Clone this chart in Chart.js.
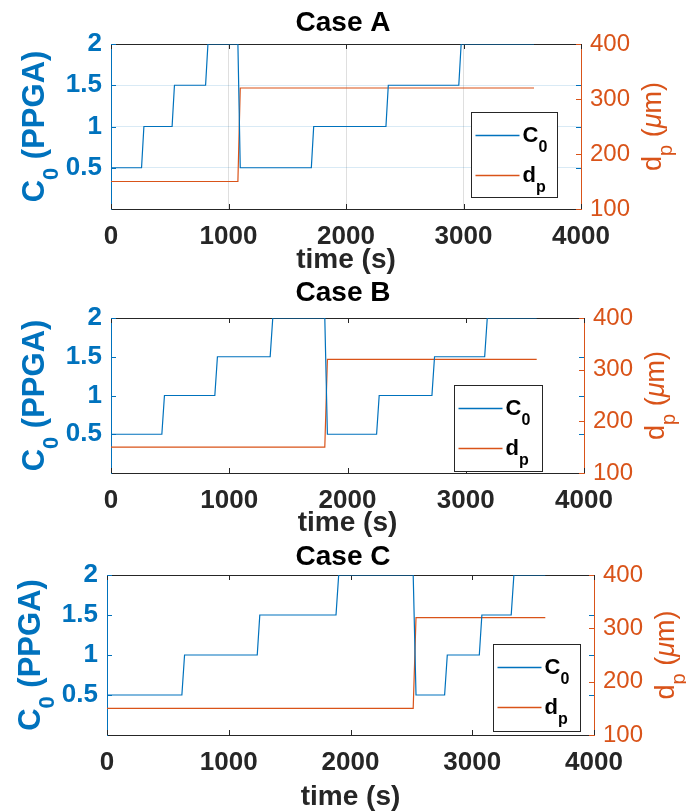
<!DOCTYPE html>
<html>
<head>
<meta charset="utf-8">
<title>Case A / B / C</title>
<style>
  body { margin: 0; background: #fff; }
  #wrap { position: relative; width: 686px; height: 812px; background: #fff; }
  canvas { position: absolute; left: 0; }
</style>
</head>
<body>
<div id="wrap">
  <canvas id="caseA" width="686" height="275" style="top:0px"></canvas>
  <canvas id="caseB" width="686" height="265" style="top:275px"></canvas>
  <canvas id="caseC" width="686" height="272" style="top:540px"></canvas>
</div>
<script src="https://cdn.jsdelivr.net/npm/chart.js@4"></script>
<script>
// tick values shared by the three panels
const timeTicks = [0, 1000, 2000, 3000, 4000];
const c0Ticks = [0.5, 1, 1.5, 2];
const dpTicks = [100, 200, 300, 400];

// Case A
const timeA = [0, 260, 280, 520, 540, 805, 825, 1080, 1100, 1705, 1725, 2340, 2360, 2960, 2980, 3600];
const c0A = [0.5, 0.5, 1, 1, 1.5, 1.5, 2, 2, 0.5, 0.5, 1, 1, 1.5, 1.5, 2, 2];
const timeA_dp = [0, 1080, 1100, 3600];
const dpA = [150, 150, 320, 320];

// Case B
const timeB = [0, 430, 452, 878, 900, 1346, 1368, 1808, 1830, 2246, 2268, 2714, 2736, 3160, 3182, 3600];
const c0B = [0.5, 0.5, 1, 1, 1.5, 1.5, 2, 2, 0.5, 0.5, 1, 1, 1.5, 1.5, 2, 2];
const timeB_dp = [0, 1808, 1830, 3600];
const dpB = [150, 150, 320, 320];

// Case C
const timeC = [0, 615, 637, 1234, 1255, 1881, 1903, 2515, 2538, 2773, 2795, 3058, 3079, 3320, 3342, 3600];
const c0C = [0.5, 0.5, 1, 1, 1.5, 1.5, 2, 2, 0.5, 0.5, 1, 1, 1.5, 1.5, 2, 2];
const timeC_dp = [0, 2515, 2538, 3600];
const dpC = [150, 150, 320, 320];

const BLUE = '#0072BD', ORANGE = '#D95319', AXIS = '#262626';
const FONT = "'Liberation Sans', Arial, Helvetica, sans-serif";

function pts(xs, ys) {
  return xs.map((x, i) => ({ x: x, y: ys[i] }));
}

// draws a row of text pieces (for subscripts / italic mu)
function drawRuns(ctx, runs, x, y, center) {
  let w = 0;
  runs.forEach(r => { ctx.font = r.font; r.w = ctx.measureText(r.t).width; w += r.w; });
  let cx = center ? x - w / 2 : x;
  runs.forEach(r => {
    ctx.font = r.font;
    ctx.fillStyle = r.color;
    ctx.fillText(r.t, cx, y + (r.dy || 0));
    cx += r.w;
  });
}

function line(ctx, x1, y1, x2, y2) {
  ctx.beginPath(); ctx.moveTo(x1, y1); ctx.lineTo(x2, y2); ctx.stroke();
}

// MATLAB look: box on top, inward ticks, legend box and axis labels
const matlabDecor = {
  id: 'matlabDecor',
  beforeDatasetsDraw(chart) {
    const { ctx, chartArea: a, scales } = chart;
    const TL = 5;
    ctx.save();
    ctx.lineWidth = 1;
    ctx.strokeStyle = AXIS;
    line(ctx, a.left, a.top + 0.5, a.right, a.top + 0.5);
    timeTicks.forEach(v => {
      const px = Math.round(scales.x.getPixelForValue(v)) + 0.5;
      line(ctx, px, a.bottom, px, a.bottom - TL);
      line(ctx, px, a.top, px, a.top + TL);
    });
    ctx.strokeStyle = BLUE;
    c0Ticks.forEach(v => {
      const py = Math.round(scales.y.getPixelForValue(v)) + 0.5;
      line(ctx, a.left, py, a.left + TL, py);
      line(ctx, a.right, py, a.right - TL, py);
    });
    ctx.strokeStyle = ORANGE;
    dpTicks.forEach(v => {
      const py = Math.round(scales.y1.getPixelForValue(v)) + 0.5;
      line(ctx, a.right, py, a.right - TL, py);
    });
    ctx.restore();
  },
  afterDraw(chart) {
    const { ctx, chartArea: a } = chart;
    const o = chart.options.plugins.matlabDecor;
    const midY = (a.top + a.bottom) / 2;
    ctx.save();
    ctx.textBaseline = 'alphabetic';

    // left axis label
    ctx.save();
    ctx.translate(a.left - 78, midY);
    ctx.rotate(-Math.PI / 2);
    drawRuns(ctx, [
      { t: 'C', font: 'bold 31px ' + FONT, color: BLUE },
      { t: '0', font: 'bold 22px ' + FONT, color: BLUE, dy: 14 },
      { t: ' (PPGA)', font: 'bold 31px ' + FONT, color: BLUE }
    ], 0, 11, true);
    ctx.restore();

    // right axis label
    ctx.save();
    ctx.translate(a.right + 71, midY);
    ctx.rotate(-Math.PI / 2);
    drawRuns(ctx, [
      { t: 'd', font: '27px ' + FONT, color: ORANGE },
      { t: 'p', font: '20px ' + FONT, color: ORANGE, dy: 11 },
      { t: ' (', font: '27px ' + FONT, color: ORANGE },
      { t: '\u03bc', font: 'italic 27px ' + FONT, color: ORANGE },
      { t: 'm)', font: '27px ' + FONT, color: ORANGE }
    ], 0, 9, true);
    ctx.restore();

    // legend
    const L = o.legend;
    const bx = Math.round(a.right - L.rightGap - L.w) + 0.5;
    const by = Math.round(a.bottom - L.bottomGap - L.h) + 0.5;
    ctx.fillStyle = '#fff';
    ctx.fillRect(bx, by, L.w, L.h);
    ctx.lineWidth = 1;
    ctx.strokeStyle = AXIS;
    ctx.strokeRect(bx, by, L.w, L.h);
    const entries = [
      { color: BLUE, main: 'C', sub: '0', ly: 23 },
      { color: ORANGE, main: 'd', sub: 'p', ly: 63 }
    ];
    entries.forEach(e => {
      ctx.strokeStyle = e.color;
      ctx.lineWidth = 1.5;
      line(ctx, bx + 4, by + e.ly, bx + 48, by + e.ly);
      drawRuns(ctx, [
        { t: e.main, font: 'bold 22px ' + FONT, color: '#000' },
        { t: e.sub, font: 'bold 16px ' + FONT, color: '#000', dy: 10 }
      ], bx + 51, by + e.ly + 6, false);
    });
    ctx.restore();
  }
};

function makeChart(id, p) {
  const tickFont = { family: FONT, size: 26, weight: 'bold', lineHeight: 1.2 };
  return new Chart(document.getElementById(id), {
    type: 'line',
    data: {
      datasets: [
        {
          label: 'C0',
          data: pts(p.time, p.c0),
          yAxisID: 'y',
          borderColor: BLUE,
          borderWidth: 1.2,
          pointRadius: 0,
          tension: 0,
          fill: false
        },
        {
          label: 'dp',
          data: pts(p.timeDp, p.dp),
          yAxisID: 'y1',
          borderColor: ORANGE,
          borderWidth: 1.2,
          pointRadius: 0,
          tension: 0,
          fill: false
        }
      ]
    },
    options: {
      responsive: false,
      animation: false,
      devicePixelRatio: 1,
      events: [],
      layout: { padding: 0 },
      plugins: {
        legend: { display: false },
        tooltip: { enabled: false },
        title: {
          display: true,
          text: p.title,
          color: '#000',
          font: { family: FONT, size: 28, weight: 'bold', lineHeight: 1 },
          padding: { top: p.titlePad[0], bottom: p.titlePad[1] }
        },
        matlabDecor: { legend: p.legend }
      },
      scales: {
        x: {
          type: 'linear',
          min: 0,
          max: 4000,
          afterBuildTicks: s => { s.ticks = timeTicks.map(v => ({ value: v })); },
          afterFit: s => { s.height = p.xHeight; },
          ticks: {
            color: AXIS,
            font: tickFont,
            padding: 12,
            maxRotation: 0,
            callback: v => String(v)
          },
          grid: { display: p.grid, drawTicks: false, color: 'rgba(38,38,38,0.15)' },
          border: { display: true, color: AXIS, width: 1 },
          title: {
            display: true,
            text: 'time (s)',
            color: AXIS,
            font: { family: FONT, size: 28, weight: 'bold', lineHeight: 1 },
            padding: { top: 0, bottom: p.timePad }
          }
        },
        y: {
          type: 'linear',
          position: 'left',
          min: 0,
          max: 2,
          afterBuildTicks: s => { s.ticks = c0Ticks.map(v => ({ value: v })); },
          afterFit: s => { s.width = p.leftW; },
          ticks: {
            color: BLUE,
            font: tickFont,
            padding: 9,
            callback: v => String(v)
          },
          grid: { display: p.grid, drawTicks: false, color: 'rgba(0,114,189,0.15)' },
          border: { display: true, color: BLUE, width: 1 }
        },
        y1: {
          type: 'linear',
          position: 'right',
          min: 100,
          max: 400,
          afterBuildTicks: s => { s.ticks = dpTicks.map(v => ({ value: v })); },
          afterFit: s => { s.width = p.rightW; },
          ticks: {
            color: ORANGE,
            font: { family: FONT, size: 24, weight: 'normal', lineHeight: 1.2 },
            padding: 9,
            callback: v => String(v)
          },
          grid: { display: false, drawTicks: false },
          border: { display: true, color: ORANGE, width: 1 }
        }
      }
    },
    plugins: [matlabDecor]
  });
}

makeChart('caseA', {
  title: 'Case A', time: timeA, c0: c0A, timeDp: timeA_dp, dp: dpA,
  grid: true, titlePad: [9, 7], xHeight: 66, timePad: 1, leftW: 111, rightW: 105,
  legend: { rightGap: 24, bottomGap: 12, w: 86, h: 85 }
});
makeChart('caseB', {
  title: 'Case B', time: timeB, c0: c0B, timeDp: timeB_dp, dp: dpB,
  grid: false, titlePad: [4, 11], xHeight: 67, timePad: 3, leftW: 111, rightW: 102,
  legend: { rightGap: 42, bottomGap: 2, w: 88, h: 86 }
});
makeChart('caseC', {
  title: 'Case C', time: timeC, c0: c0C, timeDp: timeC_dp, dp: dpC,
  grid: false, titlePad: [3, 4], xHeight: 77, timePad: 1, leftW: 107, rightW: 92,
  legend: { rightGap: 14, bottomGap: 4, w: 87, h: 87 }
});
</script>
</body>
</html>
